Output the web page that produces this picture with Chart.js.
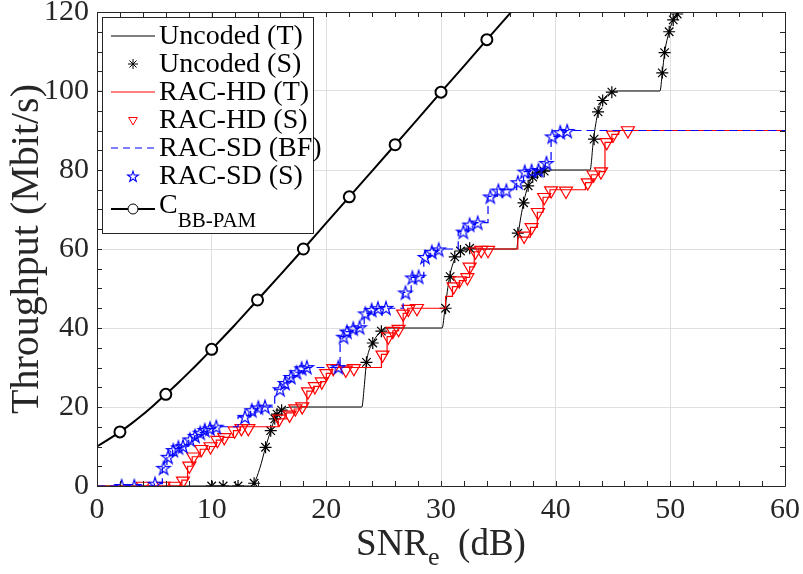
<!DOCTYPE html>
<html>
<head>
<meta charset="utf-8">
<script src="https://cdn.jsdelivr.net/npm/chart.js@4.4.1/dist/chart.umd.min.js"></script>
<style>
  html, body { margin: 0; padding: 0; background: #fff; }
  #wrap { width: 803px; height: 574px; }
</style>
</head>
<body>
<div id="wrap"><canvas id="my-chart" width="803" height="574"></canvas></div>
<script>
// ---- data ----
const uncodedTheory = [
  [0,0],[13.4,0],[13.7,0.7],[14.2,4.5],[14.7,9.8],[15.15,14],[15.5,17],[16.1,19.2],[17,20],
  [23.1,20],[23.3,25],[23.5,31.3],[24.05,36.2],[24.8,39.2],[25.8,40],
  [30.1,40],[30.35,45],[30.75,53],[31.25,57.8],[31.7,59.3],[32.5,60],
  [36.6,60],[36.75,64],[37.2,71.7],[37.6,76],[38,78.2],[38.9,79.7],[39.5,80],
  [43.0,80],[43.3,87.8],[43.7,94.7],[44.1,97.6],[44.9,99.7],[45.5,100],
  [49.1,100],[49.3,104.6],[49.5,109.7],[49.9,115],[50.25,118],[50.6,119.5],[51.2,120],[60,120]
];
const uncodedSim = [
  [10,0],[11,0],[12.3,0],[13.7,0.7],[14.7,9.8],[15.15,14],[15.5,17],[15.7,18.2],[16.1,19.2],
  [23.5,31.3],[24.05,36.2],[24.8,39.2],
  [30.4,45],[30.8,53],[31.2,58],[31.7,59.5],[32.5,60.2],
  [36.7,64],[37.2,71.7],[37.6,76],[38,78.2],[38.4,79.2],[39,79.7],
  [43.35,87.8],[43.7,94.7],[44.1,97.6],[44.9,99.7],
  [49.3,104.6],[49.5,109.7],[49.9,115],[50.25,118],[50.6,119.5]
];
const racHdTheory = [
  [0,0],[7.4,1.5],[7.9,5],[8.3,7.4],[9.0,9.3],[9.8,10],[10.4,11.6],[11.0,12.3],[11.9,14],[12.5,15],
  [15.8,17],[16.5,18.5],[17.2,19.5],[17.8,20.1],[18.3,24],[18.9,25.2],[19.5,26.4],[20.0,28.5],[20.5,30],
  [24.8,33.3],[25.3,37.8],[25.8,39.3],[26.3,40],[26.7,43.7],[27.1,45],
  [30.4,48],[31.0,50.5],[31.6,52],[32.2,52.8],[32.5,55.5],[32.9,59.3],[33.3,60],
  [36.7,63],[37.8,65.5],[38.4,69.3],[38.9,73.1],[39.5,75],
  [42.6,76.8],[43.1,78.8],[43.8,79.6],[44.3,87],[44.9,89],[45.5,90],[60,90]
];
const racHdSim = [
  [4.0,0],[5.8,0],[6.8,0],[7.5,1.3],[8.05,5.1],[8.4,7.4],[9.1,9.3],[9.9,10],[10.5,11.6],[11.1,12.3],
  [12.0,14],[12.6,14.6],[13.2,14.6],[15.9,17],[16.8,18],[17.3,19.6],[17.9,20.1],[18.4,23.9],[19.0,25.2],
  [19.6,26.4],[20.0,28.5],[20.6,29.8],[21.7,29.4],[22.4,29.8],[24.9,33.2],[25.4,37.8],[25.8,39.2],
  [26.3,39.7],[26.7,43.6],[27.15,44.8],[27.9,45],[31.1,50.5],[31.6,52],[32.3,52.8],[32.5,55.5],
  [33.0,59.3],[33.5,59.7],[34.1,59.7],[37.25,63.3],[37.9,65.5],[38.45,69.3],[39.0,73.1],[39.6,74.8],
  [40.9,74.7],[42.8,76.8],[43.3,78.8],[43.95,79.6],[44.45,87],[45.0,88.9],[46.3,90]
];
const racSdBf = [
  [0,0],[5.0,0.6],[5.7,4.6],[6.1,7.4],[6.6,9.1],[7.0,9.8],[7.4,10.1],[8.0,11.8],[8.5,12.7],[8.9,13.5],
  [9.3,14.2],[9.8,14.6],[10.3,15],[12.3,17.5],[13.4,19.2],[14.0,20],[15.5,24.5],[16.3,26.1],[16.8,27.6],
  [17.3,28.8],[17.8,29.8],[18.3,30],[21.2,37.8],[21.7,39.1],[22.3,39.9],[22.8,40.2],[23.3,43.7],
  [23.9,44.6],[24.4,45],[26.7,49],[27.4,52.8],[28.5,58],[29.1,59.3],[29.7,60],[31.5,64.4],[32.4,66.2],
  [33.0,66.7],[34.1,73.3],[34.9,75],[36.6,76.9],[37.2,79.6],[37.8,79.8],[38.4,80],[39.1,81.8],
  [39.6,88.5],[40.3,89.6],[40.9,90],[60,90]
];
const racSdSim = [
  [2.15,0],[3.25,0],[5.06,0.6],[5.8,4.6],[6.2,7.4],[6.65,9.1],[7.1,9.8],[7.5,10.1],[8.1,11.8],[8.55,12.7],
  [9.0,13.5],[9.4,14.2],[9.85,14.6],[10.4,15],[12.9,17.5],[13.5,19.2],[14.07,19.9],[14.65,20.1],
  [15.96,24.5],[16.4,26.1],[16.9,27.6],[17.4,28.8],[17.85,29.8],[18.3,30.1],[21.05,30.1],[21.5,37.8],
  [21.8,39.1],[22.35,39.9],[22.9,40.2],[23.4,43.7],[23.95,44.6],[24.5,45],[25.2,45.1],[26.9,49],
  [27.5,52.8],[28.05,53],[28.6,58],[29.2,59.3],[29.8,59.9],[31.95,64.4],[32.5,66.2],[33.2,66.7],
  [34.3,73.3],[35.0,74.8],[35.7,74.8],[36.7,76.9],[37.3,79.6],[37.9,79.8],[38.5,80],[39.2,81.8],
  [39.7,88.5],[40.4,89.6],[41.0,89.9]
];
const capX = [0,1,2,3,4,5,6,7,8,9,10,12,14,16,18,20,22,24,26,28,30,32,34,36,38];
const capY = [10,11.8,13.7,15.8,18.1,20.6,23.2,25.9,28.7,31.6,34.6,40.7,47.1,53.5,60,66.6,73.2,79.8,86.4,93,99.7,106.3,113,119.6,126.3];
const capMarkX = [2,6,10,14,18,22,26,30,34];

const xTicks = [0,10,20,30,40,50,60];
const yTicks = [0,20,40,60,80,100,120];

// ---- styling helpers ----
const SERIF = "'Liberation Serif', 'Times New Roman', serif";
const AX = '#262626';

function makePentagram(color, r, lw) {
  const s = Math.ceil(2 * r + 4);
  const c = document.createElement('canvas');
  c.width = s; c.height = s;
  const g = c.getContext('2d');
  g.strokeStyle = color; g.lineWidth = lw;
  g.lineJoin = 'miter';
  g.beginPath();
  for (let i = 0; i < 10; i++) {
    const rr = i % 2 ? r * 0.382 : r;
    const a = -Math.PI / 2 + i * Math.PI / 5;
    const px = s / 2 + rr * Math.cos(a), py = s / 2 + 0.8 + rr * Math.sin(a);
    if (i) g.lineTo(px, py); else g.moveTo(px, py);
  }
  g.closePath();
  g.stroke();
  return c;
}
const starImg = makePentagram('#0000ff', 7, 1.2);
const starLegend = makePentagram('#0000ff', 5.6, 1.1);

const pts = arr => arr.map(p => ({ x: p[0], y: p[1] }));

// frame, inner ticks, axis titles and legend
const decor = {
  id: 'decor',
  afterDatasetsDraw(chart) {
    const { ctx, chartArea: a, scales } = chart;
    const xs = scales.x, ys = scales.y;
    ctx.save();
    ctx.strokeStyle = AX;
    ctx.lineWidth = 1;
    ctx.beginPath();
    ctx.rect(Math.round(a.left) + 0.5, Math.round(a.top) + 0.5,
      Math.round(a.right - a.left), Math.round(a.bottom - a.top));
    ctx.stroke();
    ctx.beginPath();
    for (let v = 0; v <= 60; v += 2) {
      const px = Math.round(xs.getPixelForValue(v)) + 0.5;
      ctx.moveTo(px, a.bottom); ctx.lineTo(px, a.bottom - 5);
      ctx.moveTo(px, a.top); ctx.lineTo(px, a.top + 5);
    }
    for (let v = 0; v <= 120; v += 5) {
      const py = Math.round(ys.getPixelForValue(v)) + 0.5;
      ctx.moveTo(a.left, py); ctx.lineTo(a.left + 5, py);
      ctx.moveTo(a.right, py); ctx.lineTo(a.right - 5, py);
    }
    ctx.stroke();

    // axis titles
    ctx.fillStyle = AX;
    ctx.textBaseline = 'alphabetic';
    const big = '37px ' + SERIF, sub = '26px ' + SERIF;
    ctx.font = big;
    const w1 = ctx.measureText('SNR').width;
    const w3 = ctx.measureText('  (dB)').width;
    ctx.font = sub;
    const w2 = ctx.measureText('e').width;
    let x0 = (a.left + a.right) / 2 - (w1 + w2 + w3) / 2;
    const base = 555;
    ctx.font = big; ctx.textAlign = 'left';
    ctx.fillText('SNR', x0, base);
    ctx.font = sub; ctx.fillText('e', x0 + w1, base + 10);
    ctx.font = big; ctx.fillText('  (dB)', x0 + w1 + w2, base);

    ctx.save();
    ctx.translate(38, (a.top + a.bottom) / 2);
    ctx.rotate(-Math.PI / 2);
    ctx.textAlign = 'center';
    ctx.font = '40px ' + SERIF;
    ctx.fillText('Throughput (Mbit/s)', 0, 0);
    ctx.restore();

    // legend
    const L = { x: 102.5, y: 17.5, w: 211, h: 216 };
    ctx.fillStyle = '#fff';
    ctx.fillRect(L.x, L.y, L.w, L.h);
    ctx.strokeStyle = AX;
    ctx.strokeRect(L.x, L.y, L.w, L.h);
    const rows = [36, 64, 92, 120, 148, 176, 209];
    const x1 = 111, x2 = 155, xm = 133, tx = 159;
    const H = Chart.helpers;
    function line(y, color, w, dash) {
      ctx.save();
      ctx.strokeStyle = color; ctx.lineWidth = w; ctx.setLineDash(dash || []);
      ctx.beginPath(); ctx.moveTo(x1, y); ctx.lineTo(x2, y); ctx.stroke();
      ctx.restore();
    }
    function mark(y, opts, stroke, fill) {
      ctx.save();
      ctx.strokeStyle = stroke; ctx.fillStyle = fill || 'rgba(0,0,0,0)';
      H.drawPoint(ctx, opts, xm, y);
      ctx.restore();
    }
    line(rows[0], '#000', 1);
    mark(rows[1], { pointStyle: 'star', radius: 5, borderWidth: 1, rotation: 0 }, '#000');
    line(rows[2], '#ff0000', 1);
    mark(rows[3], { pointStyle: 'triangle', radius: 5, borderWidth: 1, rotation: 180 }, '#ff0000');
    line(rows[4], '#0000ff', 1, [7, 5]);
    mark(rows[5], { pointStyle: starLegend, radius: 6, borderWidth: 1, rotation: 0 }, '#0000ff');
    line(rows[6], '#000', 2);
    mark(rows[6], { pointStyle: 'circle', radius: 5, borderWidth: 2, rotation: 0 }, '#000', '#fff');

    ctx.fillStyle = '#000';
    ctx.textAlign = 'left';
    ctx.textBaseline = 'middle';
    ctx.font = '28px ' + SERIF;
    const labels = ['Uncoded (T)', 'Uncoded (S)', 'RAC-HD (T)', 'RAC-HD (S)', 'RAC-SD (BF)', 'RAC-SD (S)'];
    labels.forEach((t, i) => ctx.fillText(t, tx, rows[i] + 1));
    ctx.fillText('C', tx, rows[6] - 3);
    const cw = ctx.measureText('C').width;
    ctx.font = '21px ' + SERIF;
    ctx.fillText('BB-PAM', tx + cw, rows[6] + 12);
    ctx.restore();
  }
};

const ctx = document.getElementById('my-chart');
const myChart = new Chart(ctx, {
  type: 'line',
  data: {
    datasets: [
      {
        label: 'Uncoded (T)',
        data: pts(uncodedTheory),
        borderColor: '#000',
        borderWidth: 1,
        pointRadius: 0,
        cubicInterpolationMode: 'monotone',
        order: 6
      },
      {
        label: 'Uncoded (S)',
        data: pts(uncodedSim),
        showLine: false,
        pointStyle: 'star',
        pointRadius: 6,
        pointBorderColor: '#000',
        pointBorderWidth: 1.2,
        order: 5
      },
      {
        label: 'RAC-HD (T)',
        data: pts(racHdTheory),
        borderColor: '#ff0000',
        borderWidth: 1.2,
        stepped: 'before',
        pointRadius: 0,
        order: 4
      },
      {
        label: 'RAC-HD (S)',
        data: pts(racHdSim),
        showLine: false,
        pointStyle: 'triangle',
        rotation: 180,
        pointRadius: 7.5,
        pointBorderColor: '#ff0000',
        pointBackgroundColor: 'rgba(0,0,0,0)',
        pointBorderWidth: 1.2,
        order: 3
      },
      {
        label: 'RAC-SD (BF)',
        data: pts(racSdBf),
        borderColor: '#0000ff',
        borderWidth: 1.2,
        borderDash: [8, 5],
        stepped: 'before',
        pointRadius: 0,
        order: 2
      },
      {
        label: 'RAC-SD (S)',
        data: pts(racSdSim),
        showLine: false,
        pointStyle: starImg,
        pointRadius: 7,
        order: 1
      },
      {
        label: 'C_BB-PAM',
        data: capX.map((x, i) => ({ x: x, y: capY[i] })),
        borderColor: '#000',
        borderWidth: 2,
        cubicInterpolationMode: 'monotone',
        pointStyle: 'circle',
        pointRadius: capX.map(x => capMarkX.includes(x) ? 5.5 : 0),
        pointBorderColor: '#000',
        pointBackgroundColor: '#fff',
        pointBorderWidth: 2,
        order: 0
      }
    ]
  },
  options: {
    responsive: false,
    animation: false,
    events: [],
    layout: { padding: { left: 0, right: 18, top: 12, bottom: 0 } },
    plugins: {
      legend: { display: false },
      tooltip: { enabled: false }
    },
    scales: {
      x: {
        type: 'linear',
        min: 0,
        max: 60,
        afterFit: s => { s.height = 88; s.paddingLeft = 0; s.paddingRight = 0; },
        afterBuildTicks: s => { s.ticks = xTicks.map(v => ({ value: v })); },
        ticks: { color: AX, font: { family: SERIF, size: 30 }, padding: 6, maxRotation: 0 },
        grid: { color: '#dfdfdf', drawTicks: false },
        border: { display: false }
      },
      y: {
        type: 'linear',
        min: 0,
        max: 120,
        afterFit: s => { s.width = 97; s.paddingTop = 0; s.paddingBottom = 0; },
        afterBuildTicks: s => { s.ticks = yTicks.map(v => ({ value: v })); },
        ticks: { color: AX, font: { family: SERIF, size: 30 }, padding: 8 },
        grid: { color: '#dfdfdf', drawTicks: false },
        border: { display: false }
      }
    }
  },
  plugins: [decor]
});
</script>
</body>
</html>
